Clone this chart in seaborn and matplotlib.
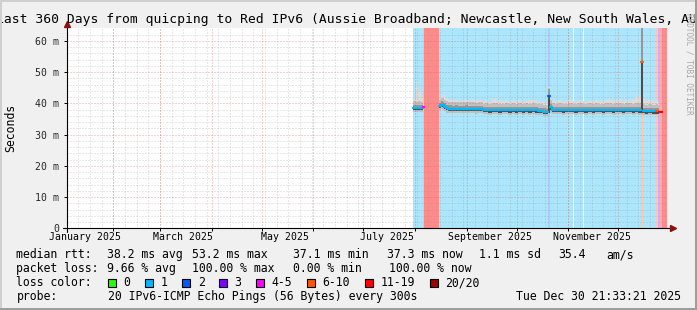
import numpy as np
import pandas as pd
import matplotlib
matplotlib.use("Agg")
import matplotlib.pyplot as plt
import matplotlib.dates as mdates
from matplotlib.patches import Rectangle
import seaborn as sns

# ---------------- data ----------------
title = "Last 360 Days from quicping to Red IPv6 (Aussie Broadband; Newcastle, New South Wales, AU)"
range_start = "2025-01-04 21:33:21"
range_end = "2025-12-30 21:33:21"

bin_starts = [
    "2025-08-01 00:00", "2025-08-02 12:00", "2025-08-03 12:00", "2025-08-04 12:00",
    "2025-08-05 12:00", "2025-08-06 12:00", "2025-08-07 10:00", "2025-08-16 10:00",
    "2025-08-17 12:00", "2025-08-18 12:00", "2025-08-19 12:00", "2025-08-20 12:00",
    "2025-08-22 00:00", "2025-08-24 00:00", "2025-08-26 00:00", "2025-08-28 00:00",
    "2025-08-30 00:00", "2025-09-01 00:00", "2025-09-03 00:00", "2025-09-05 00:00",
    "2025-09-07 00:00", "2025-09-09 00:00", "2025-09-11 18:00", "2025-09-13 00:00",
    "2025-09-15 00:00", "2025-09-17 00:00", "2025-09-19 00:00", "2025-09-21 00:00",
    "2025-09-23 00:00", "2025-09-25 00:00", "2025-09-27 00:00", "2025-09-29 00:00",
    "2025-10-01 00:00", "2025-10-03 00:00", "2025-10-05 00:00", "2025-10-07 00:00",
    "2025-10-09 00:00", "2025-10-11 00:00", "2025-10-13 00:00", "2025-10-15 00:00",
    "2025-10-17 18:00", "2025-10-19 12:00", "2025-10-20 20:00", "2025-10-21 20:00",
    "2025-10-23 00:00", "2025-10-25 00:00", "2025-10-27 00:00", "2025-10-29 00:00",
    "2025-10-31 00:00", "2025-11-02 00:00", "2025-11-05 00:00", "2025-11-05 14:00",
    "2025-11-08 00:00", "2025-11-11 00:00", "2025-11-11 14:00", "2025-11-14 00:00",
    "2025-11-16 00:00", "2025-11-18 00:00", "2025-11-20 00:00", "2025-11-22 00:00",
    "2025-11-24 00:00", "2025-11-26 00:00", "2025-11-28 00:00", "2025-11-30 00:00",
    "2025-12-02 00:00", "2025-12-04 00:00", "2025-12-06 00:00", "2025-12-08 00:00",
    "2025-12-10 00:00", "2025-12-12 00:00", "2025-12-14 00:00", "2025-12-15 12:00",
    "2025-12-16 12:00", "2025-12-18 00:00", "2025-12-20 00:00", "2025-12-22 00:00",
    "2025-12-24 10:00", "2025-12-25 14:00", "2025-12-26 14:00", "2025-12-28 00:00",
]

nan = float("nan")
median_ms = [
    38.6, 38.4, 38.5, 38.5, 38.6, 38.7, nan, 39.1, 39.6, 39.3, 38.9, 38.4,
    38.3, 38.2, 38.3, 38.2, 38.2, 38.3, 38.2, 38.2, 38.1, 38.2, 37.8, 37.8,
    37.7, 37.8, 37.8, 37.7, 37.8, 37.8, 37.7, 37.8, 37.7, 37.8, 37.7, 37.8,
    37.7, 37.8, 37.7, 37.6, 37.3, 37.2, 42.3, 38.7, 37.9, 37.8, 37.8, 37.7,
    37.8, 37.8, 37.8, 37.7, 37.8, 37.8, 37.7, 37.8, 37.7, 37.8, 37.8, 37.7,
    37.8, 37.8, 37.7, 37.8, 37.8, 37.7, 37.8, 37.8, 37.7, 37.8, 37.7, 53.2,
    37.5, 37.4, 37.5, 37.4, 37.4, 37.3, 37.3, nan,
]
smoke_lo = [
    37.2, 37.1, 37.2, 37.2, 37.3, 37.3, nan, 37.7, 38.1, 37.8, 37.4, 36.9,
    36.9, 36.8, 36.9, 36.8, 36.8, 36.9, 36.8, 36.8, 36.7, 36.8, 36.5, 36.5,
    36.4, 36.5, 36.5, 36.4, 36.5, 36.5, 36.4, 36.5, 36.4, 36.5, 36.4, 36.5,
    36.4, 36.5, 36.4, 36.3, 36.0, 35.9, 36.4, 37.0, 36.6, 36.5, 36.5, 36.4,
    36.5, 36.5, 36.6, 36.4, 36.5, 36.6, 36.4, 36.5, 36.4, 36.5, 36.5, 36.4,
    36.5, 36.5, 36.4, 36.5, 36.5, 36.4, 36.5, 36.5, 36.4, 36.5, 36.4, 36.4,
    36.2, 36.1, 36.2, 36.1, 36.1, 36.0, 36.1, nan,
]
smoke_q1 = [
    37.9, 37.7, 37.8, 37.8, 37.9, 38.0, nan, 38.4, 38.9, 38.6, 38.2, 37.7,
    37.6, 37.5, 37.6, 37.5, 37.5, 37.6, 37.5, 37.5, 37.4, 37.5, 37.1, 37.1,
    37.0, 37.1, 37.1, 37.0, 37.1, 37.1, 37.0, 37.1, 37.0, 37.1, 37.0, 37.1,
    37.0, 37.1, 37.0, 36.9, 36.6, 36.5, 36.9, 37.8, 37.2, 37.1, 37.1, 37.0,
    37.1, 37.1, 37.2, 37.0, 37.1, 37.2, 37.0, 37.1, 37.0, 37.1, 37.1, 37.0,
    37.1, 37.1, 37.0, 37.1, 37.1, 37.0, 37.1, 37.1, 37.0, 37.1, 37.0, 37.0,
    36.8, 36.7, 36.8, 36.7, 36.7, 36.6, 36.7, nan,
]
smoke_q3 = [
    39.6, 39.4, 39.5, 39.6, 39.6, 39.7, nan, 40.1, 40.6, 40.4, 40.0, 39.5,
    39.3, 39.2, 39.3, 39.2, 39.2, 39.3, 39.2, 39.2, 39.1, 39.2, 38.8, 38.8,
    38.7, 38.9, 38.9, 38.7, 38.8, 38.9, 38.7, 38.8, 38.7, 38.8, 38.7, 38.8,
    38.7, 38.9, 38.7, 38.6, 38.4, 38.3, 44.6, 39.8, 38.9, 38.8, 38.8, 38.7,
    38.8, 38.9, 38.8, 38.7, 38.8, 38.8, 38.7, 38.8, 38.7, 38.9, 38.8, 38.7,
    38.8, 38.9, 38.7, 38.8, 38.8, 38.7, 38.9, 38.8, 38.7, 38.9, 38.8, 64.5,
    38.6, 38.4, 38.5, 38.4, 38.5, 38.4, 38.4, nan,
]
smoke_hi = [
    40.6, 40.5, 40.7, 40.6, 40.5, 40.7, nan, 41.2, 41.7, 41.6, 41.2, 40.6,
    40.4, 40.3, 40.4, 40.3, 40.4, 40.4, 40.3, 40.4, 40.2, 40.3, 39.9, 40.0,
    39.8, 40.1, 40.2, 39.8, 39.9, 40.1, 39.8, 40.0, 39.8, 40.0, 39.8, 40.0,
    39.9, 40.1, 39.8, 39.7, 39.5, 39.4, 44.9, 40.9, 40.0, 39.9, 40.0, 39.8,
    39.9, 40.0, 39.9, 39.8, 40.0, 39.9, 39.8, 40.0, 39.9, 40.1, 39.9, 39.8,
    40.0, 40.1, 39.9, 40.0, 40.1, 39.9, 40.1, 40.0, 39.9, 40.2, 40.1, 65.0,
    39.8, 39.6, 39.7, 39.6, 39.7, 39.6, 39.6, nan,
]
smoke_top = [
    41.5, 46.8, 43.8, 44.2, 42.0, 41.6, nan, 41.8, 42.6, 44.8, 42.5, 41.6,
    41.2, 40.9, 41.0, 40.8, 41.1, 40.9, 40.8, 41.3, 40.7, 41.0, 40.6, 40.9,
    40.5, 41.4, 41.6, 40.6, 40.8, 41.2, 40.5, 40.7, 40.6, 41.0, 40.4, 40.8,
    41.1, 40.9, 40.6, 40.5, 40.4, 40.2, 45.3, 41.2, 40.8, 40.6, 40.9, 40.5,
    40.7, 41.0, 40.6, 40.5, 40.9, 40.7, 40.5, 40.8, 40.6, 41.2, 40.7, 40.6,
    40.9, 41.3, 40.6, 40.8, 41.4, 40.7, 41.0, 40.8, 41.5, 42.0, 42.6, 66.0,
    41.3, 40.8, 41.0, 40.6, 40.9, 40.5, 40.6, nan,
]
# loss class index per bin (0:"0", 1:"1", 2:"2", 3:"3", 4:"4-5", 5:"6-10", 6:"11-19", 7:"20/20")
loss_class = [
    1, 1, 1, 1, 1, 4, 7, 1, 1, 1, 1, 1,
    1, 1, 1, 1, 1, 1, 1, 1, 1, 1, 1, 1,
    1, 1, 1, 1, 1, 1, 1, 1, 1, 1, 1, 1,
    1, 1, 1, 1, 1, 1, 2, 1, 1, 1, 1, 1,
    1, 1, 0, 1, 1, 0, 1, 1, 1, 1, 1, 1,
    1, 1, 1, 1, 1, 1, 1, 1, 1, 1, 1, 5,
    1, 1, 1, 1, 5, 3, 6, 7,
]
loss_labels = ["0", "1", "2", "3", "4-5", "6-10", "11-19", "20/20"]
loss_colors = ["#26ff00", "#00b8ff", "#0059ff", "#7e00ff", "#ff00ff", "#ff5500", "#ff0000", "#a10000"]
loss_bg = [None, "#abe6fc", "#b3c6ff", "#d2adff", "#ffadff", "#ffc8ad", "#ffaaaa", "#ff8a8a"]

y_ticks = [0, 10, 20, 30, 40, 50, 60]
y_ticklabels = ["0", "10 m", "20 m", "30 m", "40 m", "50 m", "60 m"]
label_months = ["2025-01-01", "2025-03-01", "2025-05-01", "2025-07-01", "2025-09-01", "2025-11-01"]

stats_row1 = ["median rtt:", "38.2 ms avg", "53.2 ms max", "37.1 ms min", "37.3 ms now", "1.1 ms sd", "35.4", "am/s"]
stats_row2 = ["packet loss:", "9.66 % avg", "100.00 % max", "0.00 % min", "100.00 % now"]
probe_text = ["probe:", "20 IPv6-ICMP Echo Pings (56 Bytes) every 300s", "Tue Dec 30 21:33:21 2025"]

# ---------------- figure ----------------
sns.set_theme(style="white")
plt.rcParams["font.family"] = ["DejaVu Sans Mono"]
MONO = "DejaVu Sans Mono"

W, H = 697, 310
fig = plt.figure(figsize=(W / 100, H / 100), dpi=100)
fig.patch.set_facecolor("#f0f0f0")

L, R, T, B = 66.5, 666.5, 28.0, 228.3
ax = fig.add_axes([L / W, 1 - B / H, (R - L) / W, (B - T) / H])
ax.set_facecolor("white")

edges = pd.to_datetime(bin_starts + [range_end], format="mixed")
t0, t1 = pd.Timestamp(range_start), pd.Timestamp(range_end)

def ext(a):
    a = np.asarray(a, dtype=float)
    return np.append(a, a[-1])

# loss background
for i, c in enumerate(loss_class):
    if loss_bg[c] is not None:
        ax.axvspan(edges[i], edges[i + 1], color=loss_bg[c], lw=0, zorder=0.5)

# smoke
ax.fill_between(edges, ext(smoke_lo), ext(smoke_top), step="post", color="#dcdcdc", lw=0, zorder=1)
ax.fill_between(edges, ext(smoke_lo), ext(smoke_hi), step="post", color="#c0c0c0", lw=0, zorder=1.1)
ax.fill_between(edges, ext(smoke_q1), ext(smoke_q3), step="post", color="#979797", lw=0, zorder=1.2)
ax.fill_between(edges, ext(smoke_q1), ext(median_ms), step="post", color="#4c4c4c", lw=0, zorder=1.3)

# grid (drawn manually, dotted)
ymin, ymax = 0, (B - T) / 3.125
DOT = (0, (1, 2))
for yv in range(2, 64, 2):
    if yv % 10:
        ax.axhline(yv, color="#8f8f8f", alpha=0.4, lw=0.72, ls=DOT, zorder=2)
for yv in y_ticks[1:]:
    ax.axhline(yv, color="#de5050", alpha=0.5, lw=0.72, ls=DOT, zorder=2.1)
weeks = pd.date_range(t0, t1, freq="W-SUN").normalize()
month_starts = pd.date_range(t0, t1, freq="MS")
for d in weeks:
    ax.axvline(d, color="#8f8f8f", alpha=0.4, lw=0.72, ls=DOT, zorder=2)
for d in month_starts:
    ax.axvline(d, color="#de5050", alpha=0.5, lw=0.72, ls=DOT, zorder=2.1)

# median line coloured by loss (seaborn)
rows = []
run, prev = 0, None
for i, m in enumerate(median_ms):
    if np.isnan(m):
        prev = None
        continue
    c = loss_class[i]
    if prev is None or c != prev:
        run += 1
    rows.append((edges[i], m, c, run))
    rows.append((edges[i + 1], m, c, run))
    prev = c
df = pd.DataFrame(rows, columns=["time", "ms", "cls", "run"])
pal = {i: col for i, col in enumerate(loss_colors)}
sns.lineplot(data=df, x="time", y="ms", hue="cls", units="run", estimator=None,
             palette=pal, sort=False, legend=False, linewidth=1.6, ax=ax, zorder=5)

# axes limits / ticks
ax.set_xlim(t0, t1)
ax.set_ylim(ymin, ymax)
ax.set_xlabel("")
ax.set_ylabel("")
for s in ax.spines.values():
    s.set_visible(False)

lab_pos = pd.to_datetime(label_months) + pd.Timedelta(days=15)
ax.set_xticks(mdates.date2num(lab_pos))
ax.set_xticklabels([d.strftime("%B %Y") for d in pd.to_datetime(label_months)],
                   fontsize=7.1, family=MONO)
ax.set_xticks(mdates.date2num(month_starts), minor=True)
ax.tick_params(axis="x", which="major", length=0, pad=3.0, labelcolor="black")
ax.tick_params(axis="x", which="minor", length=2.5, width=0.7, color="black", direction="out", bottom=True)
ax.set_yticks(y_ticks)
ax.set_yticklabels(y_ticklabels, fontsize=7.15, family=MONO)
ax.tick_params(axis="y", which="major", length=2, width=0.7, color="black", pad=3.2, left=True, direction="out")

# axis lines with arrows
ax.plot([-4 / 600, 1 + 5 / 600], [0, 0], transform=ax.transAxes, color="black", lw=0.8, clip_on=False, zorder=6)
ax.plot([0, 0], [-4 / 200.3, 1 + 3 / 200.3], transform=ax.transAxes, color="black", lw=0.8, clip_on=False, zorder=6)
ax.plot([1 + 6.5 / 600], [0], marker=">", ms=4.2, color="#8c1010", transform=ax.transAxes, clip_on=False, zorder=7, mec="#8c1010")
ax.plot([0], [1 + 4.3 / 200.3], marker="^", ms=4.2, color="#8c1010", transform=ax.transAxes, clip_on=False, zorder=7, mec="#8c1010")

def ftext(x, y, s, **kw):
    kw.setdefault("family", MONO)
    kw.setdefault("fontsize", 8.3)
    kw.setdefault("color", "black")
    fig.text(x / W, 1 - y / H, s, **kw)

# title, y label, watermark
ftext(350, 23.3, title, ha="center", va="baseline", fontsize=9.4)
ftext(10.3, 127.5, "Seconds", ha="center", va="center", rotation=90)
ftext(689.5, 64, "RRDTOOL / TOBI OETIKER", ha="center", va="center", rotation=270,
      fontsize=5.5, color="#a8a8a8")

# legend rows
row1_x = [16.4, 107.1, 192.0, 292.9, 386.7, 479.1, 557.8, 606.7]
for x, s in zip(row1_x, stats_row1):
    ftext(x, 258.3, s, ha="left", va="baseline")
row2_x = [16.4, 107.1, 192.4, 293.3, 388.9]
for x, s in zip(row2_x, stats_row2):
    ftext(x, 272.3, s, ha="left", va="baseline")

ftext(16.4, 286.3, "loss color:", ha="left", va="baseline")
bx = 108.0
for lab, col in zip(loss_labels, loss_colors):
    fig.add_artist(Rectangle((bx / W, 1 - 287.0 / H), 8.2 / W, 8.2 / H, transform=fig.transFigure,
                             facecolor=col, edgecolor="black", lw=0.8))
    ftext(bx + 15.6, 286.3, lab, ha="left", va="baseline")
    bx += 15.6 + len(lab) * 6.93 + 14.5

ftext(16.4, 300.3, probe_text[0], ha="left", va="baseline")
ftext(107.6, 300.3, probe_text[1], ha="left", va="baseline")
ftext(680.5, 300.3, probe_text[2], ha="right", va="baseline")

# 3D frame
def frect(x, y, w, h, col):
    fig.add_artist(Rectangle((x / W, 1 - (y + h) / H), w / W, h / H, transform=fig.transFigure,
                             facecolor=col, edgecolor="none", lw=0, zorder=10))
frect(0, 0, W, 2, "#cfcfcf")
frect(0, 0, 2, H, "#cfcfcf")
frect(W - 2, 0, 2, H, "#9e9e9e")
frect(0, H - 2, W, 2, "#9e9e9e")

fig.savefig("out.png", dpi=100, facecolor=fig.get_facecolor())
